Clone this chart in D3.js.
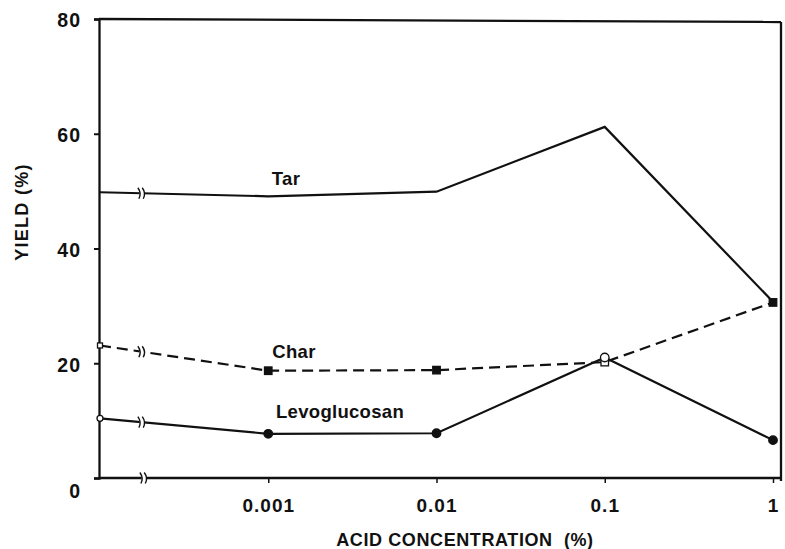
<!DOCTYPE html>
<html><head><meta charset="utf-8">
<script src="https://cdn.jsdelivr.net/npm/d3@7"></script>
<style>body{margin:0;background:#fff}svg{display:block}text{font-family:"Liberation Sans",Arial,Helvetica,sans-serif;font-weight:bold;fill:#111}</style>
</head><body><svg id="c" width="785" height="549"></svg>
<script>
const categories = ["0", "0.001", "0.01", "0.1", "1"];
const xTickLabels = ["0.001", "0.01", "0.1", "1"];
const yTicks = [0, 20, 40, 60, 80];
const tar = [49.8, 49.1, 49.9, 61.2, 30.7];
const charVals = [23.1, 18.7, 18.8, 20.2, 30.6];
const levo = [10.4, 7.7, 7.8, 21.0, 6.6];
const charFilled = [false, true, true, false, true];
const levoFilled = [false, true, true, false, true];
const seriesNames = ["Tar", "Char", "Levoglucosan"];

const svg = d3.select("#c");
const L = 99, R = 781, T = 19, B = 478;
const x = d3.scalePoint().domain(categories).range([100, 773]);
const y = d3.scaleLinear().domain([0, 80]).range([B, T]);
const ink = "#111";

// frame
svg.append("line").attr("x1", L).attr("x2", R).attr("y1", T).attr("y2", T + 3).attr("stroke", ink).attr("stroke-width", 2.3);
svg.append("line").attr("x1", R).attr("x2", R).attr("y1", T + 3).attr("y2", B + 3).attr("stroke", ink).attr("stroke-width", 2.3);

// axes
const yAxis = d3.axisLeft(y).tickValues(yTicks).tickSize(5).tickPadding(13);
const gy = svg.append("g").attr("transform", `translate(${L},0)`).call(yAxis);
gy.select(".domain").attr("stroke", ink).attr("stroke-width", 2.3);
gy.selectAll(".tick line").attr("stroke", ink).attr("stroke-width", 2);
gy.selectAll(".tick text").style("font-size", "19.5px").style("letter-spacing", "1px").attr("fill", ink)
  .attr("dy", d => d === 0 ? "1.0em" : "0.4em");

const xAxis = d3.axisBottom(x).tickValues(xTickLabels).tickSize(5);
const gx = svg.append("g").attr("transform", `translate(0,${B})`).call(xAxis);
gx.select(".domain").attr("d", `M${L},0H${R}`).attr("stroke", ink).attr("stroke-width", 2.3);
gx.selectAll(".tick line").attr("stroke", ink).attr("stroke-width", 1.5);
gx.selectAll(".tick text").style("font-size", "19px").style("letter-spacing", "1px").attr("fill", ink)
  .attr("y", 34).attr("dy", 0);

svg.append("text").attr("x", 465).attr("y", 546).attr("text-anchor", "middle")
  .style("font-size", "18px").style("letter-spacing", "0.6px").text("ACID CONCENTRATION\u00a0\u00a0(%)");
svg.append("text").attr("transform", "translate(28,212) rotate(-90)").attr("text-anchor", "middle")
  .style("font-size", "18px").style("letter-spacing", "1.3px").text("YIELD\u00a0(%)");

// lines
const line = d3.line().x((d, i) => x(categories[i])).y(d => y(d));
const series = [
  {vals: tar, dash: null},
  {vals: charVals, dash: "11,6"},
  {vals: levo, dash: null}
];
series.forEach(s => {
  svg.append("path").datum(s.vals).attr("d", line).attr("fill", "none")
    .attr("stroke", ink).attr("stroke-width", 2.2).attr("stroke-dasharray", s.dash);
});

// axis breaks on first segment
function brk(px, py, slope) {
  const g = svg.append("g").attr("transform", `translate(${px},${py})`);
  g.append("rect").attr("x", -2.5).attr("y", -4).attr("width", 5).attr("height", 8).attr("fill", "#fff")
    .attr("transform", `rotate(${Math.atan(slope) * 180 / Math.PI})`);
  [-2.2, 2.2].forEach(o => g.append("path").attr("d", `M${o - 2},-5.5 Q${o + 2},0 ${o - 1},5.5`)
    .attr("fill", "none").attr("stroke", ink).attr("stroke-width", 1.4));
}
const bx = x(categories[0]) + 0.25 * x.step();
series.forEach(s => {
  const x0 = x(categories[0]), x1 = x(categories[1]);
  const y0 = y(s.vals[0]), y1 = y(s.vals[1]);
  const t = (bx - x0) / (x1 - x0);
  brk(bx, y0 + t * (y1 - y0), (y1 - y0) / (x1 - x0));
});
brk(bx + 2, B, 0);

// markers
function marks(vals, filled, type) {
  vals.forEach((v, i) => {
    const cx = x(categories[i]), cy = y(v);
    const sz = i === 0 ? 5 : 7.5;
    if (type === "sq") {
      svg.append("rect").attr("x", cx - sz / 2).attr("y", cy - sz / 2).attr("width", sz).attr("height", sz)
        .attr("fill", filled[i] ? ink : "#fff").attr("stroke", ink).attr("stroke-width", 1.3);
    } else {
      svg.append("circle").attr("cx", cx).attr("cy", cy).attr("r", sz / 2 + 0.5)
        .attr("fill", filled[i] ? ink : "#fff").attr("stroke", ink).attr("stroke-width", 1.3);
    }
  });
}
marks(charVals, charFilled, "sq");
marks(levo, levoFilled, "ci");

// series labels
const labelPos = [[286, 185], [294, 358], [340, 418]];
seriesNames.forEach((n, i) => {
  svg.append("text").attr("x", labelPos[i][0]).attr("y", labelPos[i][1]).attr("text-anchor", "middle")
    .style("font-size", "18.5px").style("letter-spacing", "0.3px").text(n);
});
</script></body></html>
